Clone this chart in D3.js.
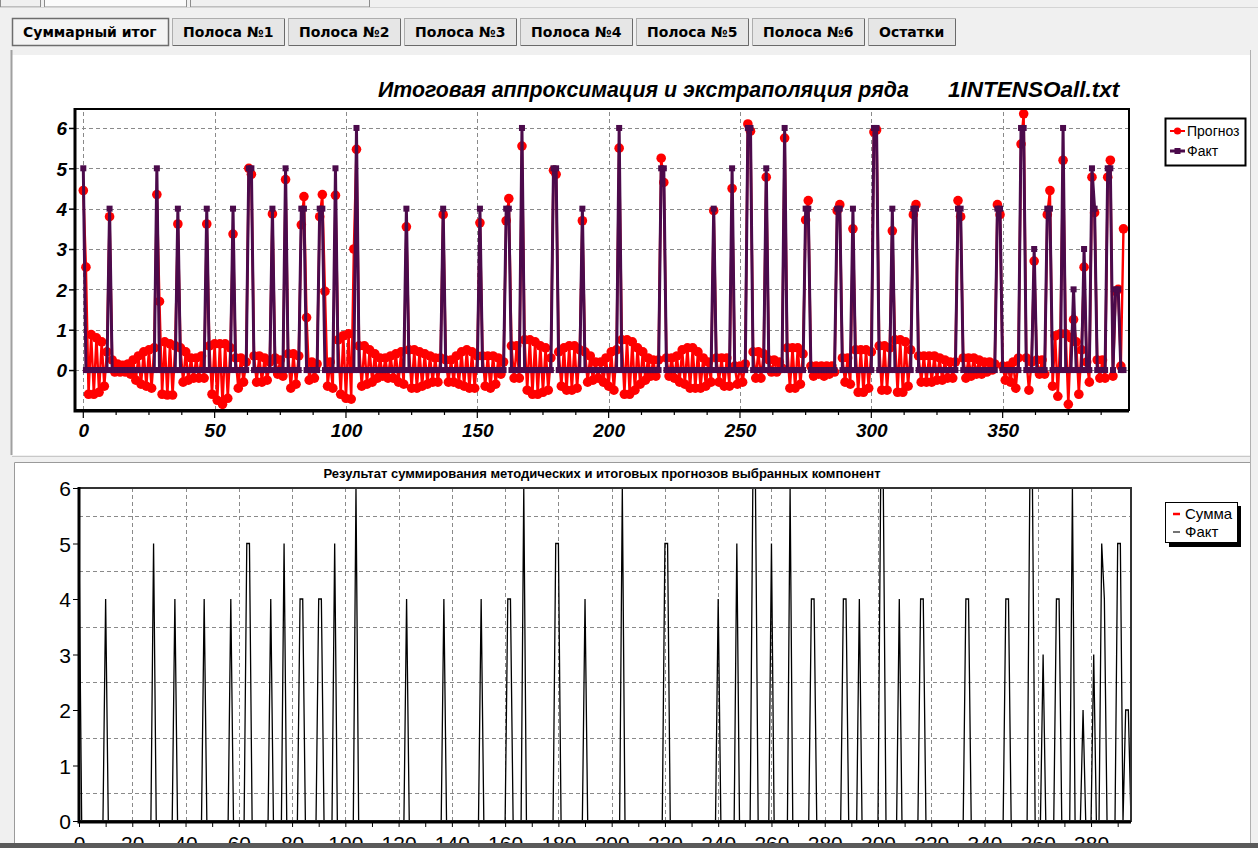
<!DOCTYPE html>
<html lang="ru">
<head>
<meta charset="UTF-8">
<title>Итоговая аппроксимация и экстраполяция ряда</title>
<style>
  html, body { margin: 0; padding: 0; background: #f0f0f0; overflow: hidden; }
  svg { display: block; }
  .btn text { font-family: 'DejaVu Sans', sans-serif; font-weight: bold; font-size: 14px; fill: #000; }
  .grid line { stroke: #8a8a8a; stroke-width: 1; stroke-dasharray: 4 3; shape-rendering: crispEdges; }
  .top-lbl { font-family: 'Liberation Sans', Arial, sans-serif; font-weight: bold; font-style: italic; font-size: 19px; fill: #000; }
  .bot-lbl { font-family: 'Liberation Sans', Arial, sans-serif; font-size: 21px; fill: #000; }
  .legend text { font-family: 'Liberation Sans', Arial, sans-serif; fill: #000; }
</style>
</head>
<body>
<svg id="chart" width="1258" height="848"></svg>
<script src="https://d3js.org/d3.v7.min.js"></script>
<script>
// tab buttons
const buttonLabels = ['Суммарный итог', 'Полоса №1', 'Полоса №2', 'Полоса №3', 'Полоса №4', 'Полоса №5', 'Полоса №6', 'Остатки']

// titles / legend
const topTitle = 'Итоговая аппроксимация и экстраполяция ряда'
const topFile = '1INTENSOall.txt'
const bottomTitle = 'Результат суммирования методических и итоговых прогнозов выбранных компонент'
const topSeries = ['Прогноз', 'Факт']
const bottomSeries = ['Сумма', 'Факт']

// "Факт": zero everywhere except these indices
const factIdx = [0, 10, 28, 36, 47, 57, 63, 64, 72, 77, 83, 84, 90, 91, 96, 104,
  123, 137, 151, 161, 162, 167, 179, 180, 190, 204, 220, 221, 240, 247, 253, 254,
  260, 267, 275, 276, 287, 288, 293, 301, 302, 308, 316, 317, 333, 334, 348, 349,
  357, 358, 362, 367, 368, 373, 377, 381, 384, 385, 390, 391, 393, 394]
const factVal = [5, 4, 5, 4, 4, 4, 5, 5, 4, 5, 4, 4, 4, 4, 5, 6,
  4, 4, 4, 4, 4, 6, 5, 5, 4, 6, 5, 5, 4, 5, 6, 6,
  5, 6, 4, 4, 4, 4, 4, 6, 6, 4, 4, 4, 4, 4, 4, 4,
  6, 6, 3, 4, 4, 6, 2, 3, 5, 4, 5, 5, 2, 2]

// "Прогноз", one value per point 0..396
const prognoz = [
  4.45, 2.55, -0.6, 0.88, -0.6, 0.8, -0.55, 0.7, -0.4, 0.45,
  3.8, 0.25, -0.05, 0.15, -0.05, 0.12, -0.05, 0.15, -0.1, 0.25,
  -0.25, 0.35, -0.35, 0.45, -0.4, 0.5, -0.45, 0.55, 4.35, 1.7,
  -0.6, 0.7, -0.62, 0.65, -0.62, 0.6, 3.62, 0.55, -0.3, 0.45,
  -0.25, 0.3, -0.2, 0.3, -0.2, 0.35, -0.2, 3.62, 0.6, -0.6,
  0.65, -0.75, 0.65, -0.85, 0.65, -0.7, 0.55, 3.37, 0.3, -0.45,
  0.3, -0.3, 0.2, 5.0, 4.85, 0.35, -0.3, 0.35, -0.3, 0.3,
  -0.25, 0.2, 3.87, 0.3, -0.1, 0.25, -0.15, 4.72, 0.4, -0.45,
  0.4, -0.35, 0.35, 3.6, 4.3, 1.3, -0.25, 0.2, -0.2, 0.15,
  3.8, 4.35, 1.95, -0.4, 0.2, -0.45, 4.33, 0.75, -0.6, 0.85,
  -0.7, 0.9, -0.72, 3.0, 5.47, 0.6, -0.4, 0.6, -0.35, 0.5,
  -0.3, 0.4, -0.2, 0.3, -0.15, 0.3, -0.2, 0.35, -0.2, 0.4,
  -0.3, 0.45, -0.35, 3.55, 0.5, -0.45, 0.5, -0.45, 0.45, -0.4,
  0.4, -0.35, 0.35, -0.3, 0.3, -0.3, 0.3, 3.85, 0.25, -0.3,
  0.25, -0.3, 0.35, -0.35, 0.45, -0.4, 0.5, -0.45, 0.45, -0.45,
  0.35, 3.65, 0.35, -0.4, 0.35, -0.45, 0.35, -0.35, 0.3, -0.1,
  0.2, 3.7, 4.25, 0.6, -0.2, 0.6, -0.2, 5.55, 0.75, -0.5,
  0.75, -0.6, 0.7, -0.6, 0.6, -0.55, 0.55, -0.5, 0.3, 4.95,
  4.85, 0.45, -0.4, 0.55, -0.5, 0.6, -0.5, 0.6, -0.45, 0.5,
  3.7, 0.45, -0.3, 0.35, -0.25, 0.2, -0.2, 0.2, -0.3, 0.3,
  -0.4, 0.45, -0.5, 0.5, 5.5, 0.75, -0.6, 0.75, -0.6, 0.7,
  -0.5, 0.55, -0.35, 0.45, -0.25, 0.3, -0.15, 0.25, -0.15, 0.25,
  5.25, 4.65, 0.3, -0.15, 0.3, -0.2, 0.35, -0.3, 0.5, -0.35,
  0.55, -0.45, 0.55, -0.45, 0.45, -0.45, 0.3, -0.4, 0.2, -0.3,
  3.95, 0.3, -0.3, 0.3, -0.4, 0.3, -0.4, 4.5, 0.1, -0.35,
  0.1, -0.3, 0.15, 6.1, 5.92, 0.45, -0.2, 0.45, -0.2, 0.4,
  4.78, 0.25, -0.05, 0.25, -0.05, 0.2, 0.05, 5.75, 0.55, -0.45,
  0.55, -0.45, 0.55, -0.35, 0.4, 3.72, 4.2, 0.1, -0.15, 0.1,
  -0.1, 0.1, -0.15, 0.1, -0.1, 0.1, -0.05, 3.95, 4.1, 0.3,
  -0.3, 0.3, -0.35, 3.5, 0.5, -0.55, 0.5, -0.55, 0.5, -0.45,
  0.45, 5.9, 5.95, 0.6, -0.5, 0.6, -0.5, 0.55, 3.45, 0.75,
  -0.55, 0.75, -0.55, 0.7, -0.4, 0.5, 3.85, 4.1, 0.35, -0.3,
  0.35, -0.3, 0.35, -0.3, 0.35, -0.25, 0.3, -0.25, 0.25, -0.2,
  0.2, -0.2, 0.2, 4.2, 3.8, 0.3, -0.2, 0.3, -0.15, 0.3,
  -0.1, 0.25, -0.1, 0.2, -0.05, 0.2, 0.0, 0.15, 4.1, 3.85,
  0.1, -0.25, 0.1, -0.3, 0.2, -0.45, 0.3, 5.6, 6.35, 0.3,
  -0.5, 0.2, 2.7, 0.25, -0.1, 0.25, -0.1, 3.85, 4.45, -0.4,
  0.85, -0.65, 0.9, 5.2, 0.9, -0.85, 0.8, 1.25, 0.7, -0.6,
  0.5, 2.55, 0.2, -0.3, 4.78, 3.9, 0.25, -0.2, 0.25, -0.2,
  4.78, 5.2, -0.15, 1.95, 2.0, 0.1, 3.5
]

// tick labels
const topXTicks = [0, 50, 100, 150, 200, 250, 300, 350]
const topYTicks = [0, 1, 2, 3, 4, 5, 6]
const bottomXTicks = [0, 20, 40, 60, 80, 100, 120, 140, 160, 180, 200, 220, 240, 260, 280, 300, 320, 340, 360, 380]
const bottomYTicks = [0, 1, 2, 3, 4, 5, 6]

const fact = prognoz.map(() => 0)
factIdx.forEach((k, j) => { fact[k] = factVal[j] })

const RED = '#ff0000'
const PURPLE = '#4b0a4b'

const svg = d3.select('#chart')

// window chrome: stub tabs, buttons, panels
svg.append('rect').attr('width', 1258).attr('height', 848).attr('fill', '#f0f0f0')
const stubs = [[0, 40], [44, 186], [190, 369]]
stubs.forEach(([a, b], i) => {
    svg.append('rect').attr('x', a + 0.5).attr('y', -4).attr('width', b - a).attr('height', 11)
        .attr('fill', i === 1 ? '#fbfbfb' : '#f0f0f0').attr('stroke', '#8c8c8c')
})
svg.append('line').attr('x1', 0).attr('x2', 1258).attr('y1', 7.5).attr('y2', 7.5).attr('stroke', '#d4d4d4')

const btnG = svg.append('g').attr('class', 'btn')
let bx = 12
buttonLabels.forEach((label, i) => {
    const g = btnG.append('g').attr('transform', `translate(${bx},18)`)
    const rect = g.append('rect').attr('x', 0.5).attr('y', 0.5).attr('height', 27)
    const t = g.append('text').attr('x', 11).attr('y', 19).text(label)
    const w = Math.round(t.node().getComputedTextLength()) + 22
    if (i === 0) {
        rect.attr('width', w).attr('fill', '#f4f4f4').attr('stroke', '#6d6d6d').attr('stroke-width', 1.5)
    } else {
        rect.attr('width', w).attr('fill', '#e6e6e6').attr('stroke', '#adadad')
        g.append('path').attr('d', `M${w + 0.5},1V27.5H1`).attr('fill', 'none').attr('stroke', '#6a6a6a')
    }
    bx += w + 4
})

// top panel
svg.append('rect').attr('x', 12).attr('y', 55).attr('width', 1238).attr('height', 400).attr('fill', '#fff')
svg.append('line').attr('x1', 11.5).attr('x2', 11.5).attr('y1', 50).attr('y2', 455).attr('stroke', '#a0a0a0').attr('stroke-width', 2)
// separator + bottom panel
svg.append('rect').attr('x', 0).attr('y', 455).attr('width', 1258).attr('height', 8).attr('fill', '#f0f0f0')
svg.append('line').attr('x1', 12).attr('x2', 1250).attr('y1', 456.5).attr('y2', 456.5).attr('stroke', '#c8c8c8')
svg.append('rect').attr('x', 14).attr('y', 462).attr('width', 1236).attr('height', 382).attr('fill', '#fff')
svg.append('path').attr('d', 'M14.5,844V462.5H1250').attr('fill', 'none').attr('stroke', '#9a9a9a')
svg.append('line').attr('x1', 1250.5).attr('x2', 1250.5).attr('y1', 50).attr('y2', 844).attr('stroke', '#b0b0b0')

// ---------- top chart ----------
const tx = d3.scaleLinear().domain([-3.16, 398.1]).range([75, 1129])
const ty = d3.scaleLinear().domain([-0.99, 6.47]).range([410, 109])

svg.append('text').attr('class', 'top-lbl').attr('x', 378).attr('y', 97).style('font-size', '21.3px').text(topTitle)
svg.append('text').attr('class', 'top-lbl').attr('x', 948).attr('y', 97).style('font-size', '22.5px').text(topFile)

const topG = svg.append('g')
const tGrid = topG.append('g').attr('class', 'grid')
tGrid.selectAll('.h').data(topYTicks).join('line').attr('class', 'h')
    .attr('x1', tx.range()[0]).attr('x2', tx.range()[1])
    .attr('y1', d => Math.round(ty(d)) + 0.5).attr('y2', d => Math.round(ty(d)) + 0.5)
tGrid.selectAll('.v').data(topXTicks).join('line').attr('class', 'v')
    .attr('y1', ty.range()[0]).attr('y2', ty.range()[1])
    .attr('x1', d => Math.round(tx(d)) + 0.5).attr('x2', d => Math.round(tx(d)) + 0.5)

topG.append('defs').append('clipPath').attr('id', 'topClip')
    .append('rect').attr('x', 75).attr('y', 100).attr('width', 1054).attr('height', 310)

const tLine = d3.line().x((d, i) => tx(i)).y(d => ty(d))
const tPlot = topG.append('g').attr('clip-path', 'url(#topClip)')
tPlot.append('path').datum(prognoz).attr('d', tLine)
    .attr('fill', 'none').attr('stroke', RED).attr('stroke-width', 2.4)
tPlot.append('g').selectAll('circle').data(prognoz).join('circle')
    .attr('cx', (d, i) => tx(i)).attr('cy', d => ty(d)).attr('r', 4.8).attr('fill', RED)
tPlot.append('path').datum(fact).attr('d', tLine)
    .attr('fill', 'none').attr('stroke', PURPLE).attr('stroke-width', 3).attr('stroke-linejoin', 'miter')
tPlot.append('g').selectAll('rect').data(fact).join('rect')
    .attr('x', (d, i) => tx(i) - 3).attr('y', d => ty(d) - 3).attr('width', 6).attr('height', 6).attr('fill', PURPLE)

// frame and axes
topG.append('rect').attr('x', 75).attr('y', 109).attr('width', 1054).attr('height', 301)
    .attr('fill', 'none').attr('stroke', '#000').attr('stroke-width', 2)
topG.append('path').attr('d', 'M75,108V411H1129').attr('fill', 'none').attr('stroke', '#000').attr('stroke-width', 3)

const tyAxis = d3.axisLeft(ty).tickValues(topYTicks).tickSize(5).tickFormat(d3.format('d'))
const tyG = topG.append('g').attr('transform', 'translate(74,0)').call(tyAxis)
tyG.select('.domain').remove()
tyG.selectAll('line').attr('stroke-width', 1.5)
tyG.selectAll('text').attr('class', 'top-lbl').attr('x', -7).attr('dy', '0.36em')

const txMinor = d3.range(0, 398, 12.5)
topG.append('g').selectAll('line').data(txMinor).join('line')
    .attr('x1', d => tx(d)).attr('x2', d => tx(d)).attr('y1', 411).attr('y2', d => d % 50 === 0 ? 418 : 415)
    .attr('stroke', '#000').attr('stroke-width', 1.2)
const txAxis = d3.axisBottom(tx).tickValues(topXTicks).tickSize(0).tickFormat(d3.format('d'))
const txG = topG.append('g').attr('transform', 'translate(0,411)').call(txAxis)
txG.select('.domain').remove()
txG.selectAll('text').attr('class', 'top-lbl').attr('y', 26).attr('dy', 0)

// top legend
const tLeg = svg.append('g').attr('class', 'legend').attr('transform', 'translate(1165,118)')
tLeg.append('rect').attr('x', 0.5).attr('y', 0.5).attr('width', 80).attr('height', 47)
    .attr('fill', '#fff').attr('stroke', '#000').attr('stroke-width', 2)
topSeries.forEach((s, i) => {
    const yy = 13 + i * 20
    const col = i === 0 ? RED : PURPLE
    tLeg.append('line').attr('x1', 5).attr('x2', 20).attr('y1', yy).attr('y2', yy).attr('stroke', col).attr('stroke-width', i === 0 ? 2 : 3)
    if (i === 0) tLeg.append('circle').attr('cx', 12.5).attr('cy', yy).attr('r', 3.6).attr('fill', col)
    else tLeg.append('rect').attr('x', 9.5).attr('y', yy - 3).attr('width', 6).attr('height', 6).attr('fill', col)
    tLeg.append('text').attr('x', 22).attr('y', yy + 5).style('font-size', '14px').text(s)
})

// ---------- bottom chart ----------
const bx2 = d3.scaleLinear().domain([0, 395]).range([79, 1131])
const by = d3.scaleLinear().domain([0, 6]).range([821, 488])

svg.append('text').attr('x', 602).attr('y', 478).attr('text-anchor', 'middle')
    .style('font-family', "'Liberation Sans', Arial, sans-serif").style('font-weight', 'bold').style('font-size', '13px')
    .text(bottomTitle)

const botG = svg.append('g')
const bGrid = botG.append('g').attr('class', 'grid')
const halfLines = bottomYTicks.slice(0, -1).map(d => d + 0.5)
bGrid.selectAll('.h').data(halfLines).join('line').attr('class', 'h')
    .attr('x1', bx2.range()[0]).attr('x2', bx2.range()[1])
    .attr('y1', d => Math.round(by(d)) + 0.5).attr('y2', d => Math.round(by(d)) + 0.5)
bGrid.selectAll('.v').data(bottomXTicks.slice(1)).join('line').attr('class', 'v')
    .attr('y1', by.range()[0]).attr('y2', by.range()[1])
    .attr('x1', d => Math.round(bx2(d)) + 0.5).attr('x2', d => Math.round(bx2(d)) + 0.5)

botG.append('defs').append('clipPath').attr('id', 'botClip')
    .append('rect').attr('x', 79).attr('y', 487).attr('width', 1052).attr('height', 335)
const bLine = d3.line().x((d, i) => bx2(i)).y(d => by(d))
botG.append('g').attr('clip-path', 'url(#botClip)')
    .append('path').datum(fact).attr('d', bLine)
    .attr('fill', 'none').attr('stroke', '#000').attr('stroke-width', 1.3)

botG.append('rect').attr('x', 79).attr('y', 488).attr('width', 1052).attr('height', 333)
    .attr('fill', 'none').attr('stroke', '#333').attr('stroke-width', 2)
botG.append('path').attr('d', 'M79,487V822H1131').attr('fill', 'none').attr('stroke', '#000').attr('stroke-width', 3)

const byAxis = d3.axisLeft(by).tickValues(bottomYTicks).tickSize(5).tickFormat(d3.format('d'))
const byG = botG.append('g').attr('transform', 'translate(78,0)').call(byAxis)
byG.select('.domain').remove()
byG.selectAll('text').attr('class', 'bot-lbl').attr('x', -7).attr('dy', '0.36em')

// x axis labels are cut off by the window edge, as in the screenshot
botG.append('defs').append('clipPath').attr('id', 'winClip')
    .append('rect').attr('x', 0).attr('y', 0).attr('width', 1258).attr('height', 843)
const bxAxis = d3.axisBottom(bx2).tickValues(d3.range(0, 395, 10)).tickSize(5)
    .tickFormat(d => bottomXTicks.includes(d) ? d : '')
const bxG = botG.append('g').attr('clip-path', 'url(#winClip)')
    .append('g').attr('transform', 'translate(0,822)').call(bxAxis)
bxG.select('.domain').remove()
bxG.selectAll('text').attr('class', 'bot-lbl').attr('y', 29).attr('dy', 0)

// bottom legend
const bLeg = svg.append('g').attr('class', 'legend').attr('transform', 'translate(1165,502)')
bLeg.append('rect').attr('x', 4).attr('y', 4).attr('width', 72).attr('height', 41).attr('fill', '#000')
bLeg.append('rect').attr('x', 0.5).attr('y', 0.5).attr('width', 72).attr('height', 40)
    .attr('fill', '#fff').attr('stroke', '#000')
bottomSeries.forEach((s, i) => {
    const yy = 12 + i * 18
    bLeg.append('line').attr('x1', 8).attr('x2', 15).attr('y1', yy).attr('y2', yy)
        .attr('stroke', i === 0 ? RED : '#444').attr('stroke-width', i === 0 ? 2.5 : 1.5)
    bLeg.append('text').attr('x', 20).attr('y', yy + 5).style('font-size', '15px').text(s)
})

// window bottom edge
svg.append('rect').attr('x', 0).attr('y', 843).attr('width', 1258).attr('height', 5).attr('fill', '#5a5a5a')
</script>
</body>
</html>
